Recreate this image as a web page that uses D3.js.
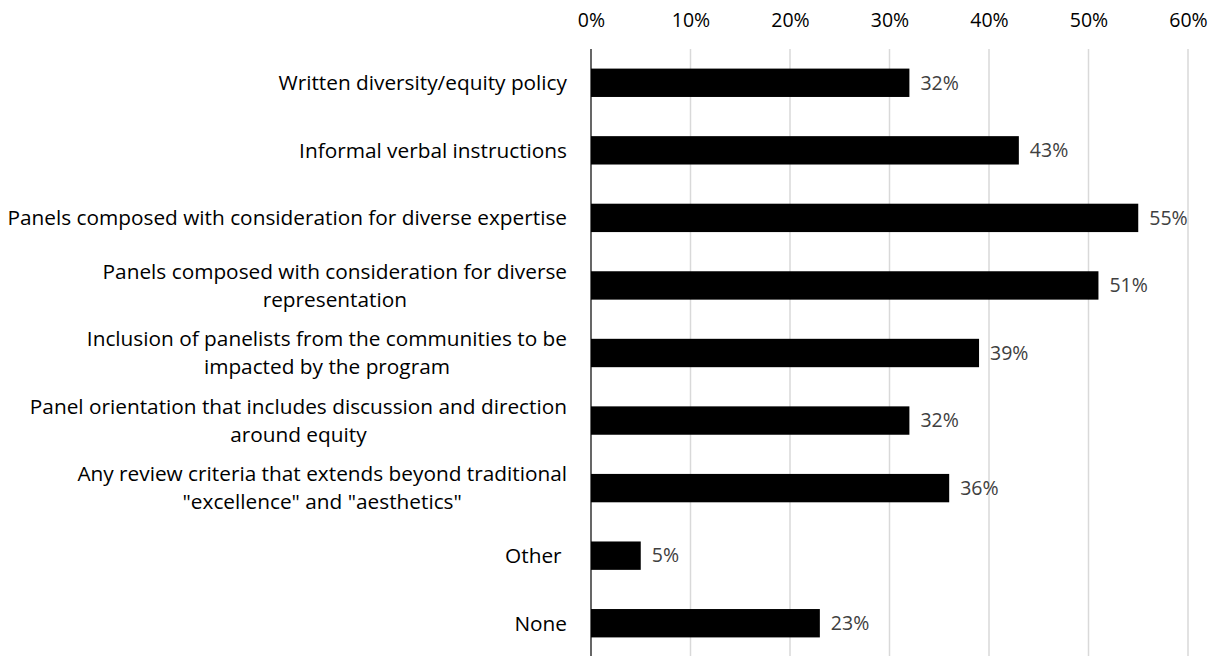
<!DOCTYPE html>
<html>
<head>
<meta charset="utf-8">
<script src="https://cdn.jsdelivr.net/npm/d3@7"></script>
<style>
  html, body { margin: 0; padding: 0; background: #fff; }
  svg { display: block; }
  text { font-family: "Open Sans", Lato, sans-serif; }
</style>
</head>
<body>
<svg id="chart" width="1215" height="656"></svg>
<script>
// Survey responses: equity practices used in panel review
const categories = [
  ["Written diversity/equity policy"],
  ["Informal verbal instructions"],
  ["Panels composed with consideration for diverse expertise"],
  ["Panels composed with consideration for diverse", "representation"],
  ["Inclusion of panelists from the communities to be", "impacted by the program"],
  ["Panel orientation that includes discussion and direction", "around equity"],
  ["Any review criteria that extends beyond traditional", "\"excellence\" and \"aesthetics\""],
  ["Other "],
  ["None"]
];
const values = [32, 43, 55, 51, 39, 32, 36, 5, 23];
const tickValues = [0, 10, 20, 30, 40, 50, 60];

const svg = d3.select("#chart");
const margin = { top: 49, left: 591 };
const plotRight = 1188;
const plotBottom = 657;
const fontFamily = "'Open Sans', Lato, sans-serif";

const x = d3.scaleLinear().domain([0, 60]).range([margin.left, plotRight]);
const y = d3.scaleBand()
  .domain(d3.range(values.length))
  .range([margin.top, plotBottom])
  .paddingInner(0.58)
  .paddingOuter(0.29);

// vertical gridlines
svg.append("g")
  .selectAll("line")
  .data(tickValues.filter(d => d > 0))
  .join("line")
  .attr("x1", d => x(d)).attr("x2", d => x(d))
  .attr("y1", margin.top).attr("y2", plotBottom)
  .attr("stroke", "#d9d9d9")
  .attr("stroke-width", 1.5);

// top axis with percentage labels
const xAxis = d3.axisTop(x)
  .tickValues(tickValues)
  .tickFormat(d => d + "%")
  .tickSize(0)
  .tickPadding(0);
const gx = svg.append("g")
  .attr("transform", "translate(0,27)")
  .call(xAxis);
gx.select(".domain").remove();
gx.selectAll("text")
  .attr("font-family", fontFamily)
  .attr("font-size", 19.5)
  .attr("fill", "#000");

// bars
svg.append("g")
  .selectAll("rect")
  .data(values)
  .join("rect")
  .attr("x", x(0))
  .attr("y", (d, i) => y(i))
  .attr("width", d => x(d) - x(0))
  .attr("height", y.bandwidth())
  .attr("fill", "#000");

// value labels
svg.append("g")
  .selectAll("text")
  .data(values)
  .join("text")
  .attr("x", d => x(d) + 11)
  .attr("y", (d, i) => y(i) + y.bandwidth() / 2)
  .attr("dy", "0.35em")
  .attr("font-family", fontFamily)
  .attr("font-size", 19.5)
  .attr("fill", "#404040")
  .text(d => d + "%");

// vertical category axis line
svg.append("line")
  .attr("x1", x(0)).attr("x2", x(0))
  .attr("y1", margin.top).attr("y2", plotBottom)
  .attr("stroke", "#000")
  .attr("stroke-width", 1.2);

// category labels: block right-aligned to the axis, lines centred inside the block
const labelRight = 567;
const labelLeft = 7;
const lineHeight = 28;
const catG = svg.append("g");
const groups = categories.map((lines, i) => {
  const cy = y(i) + y.bandwidth() / 2;
  const g = catG.append("g");
  const texts = lines.map((ln, j) => g.append("text")
    .attr("font-family", fontFamily)
    .attr("font-size", 20)
    .attr("fill", "#000")
    .attr("dy", "0.35em")
    .attr("y", cy + (j - (lines.length - 1) / 2) * lineHeight)
    .style("white-space", "pre")
    .text(ln));
  return texts;
});
// size the type so the widest line fills the space left of the axis
const widest = d3.max(groups.flat(), t => t.node().getComputedTextLength());
const labelSize = Math.min(21, 20 * (labelRight - labelLeft) / widest);
groups.forEach(texts => {
  texts.forEach(t => t.attr("font-size", labelSize));
  const maxW = d3.max(texts, t => t.node().getComputedTextLength());
  texts.forEach(t => t.attr("x", labelRight - maxW / 2).attr("text-anchor", "middle"));
});
</script>
</body>
</html>
